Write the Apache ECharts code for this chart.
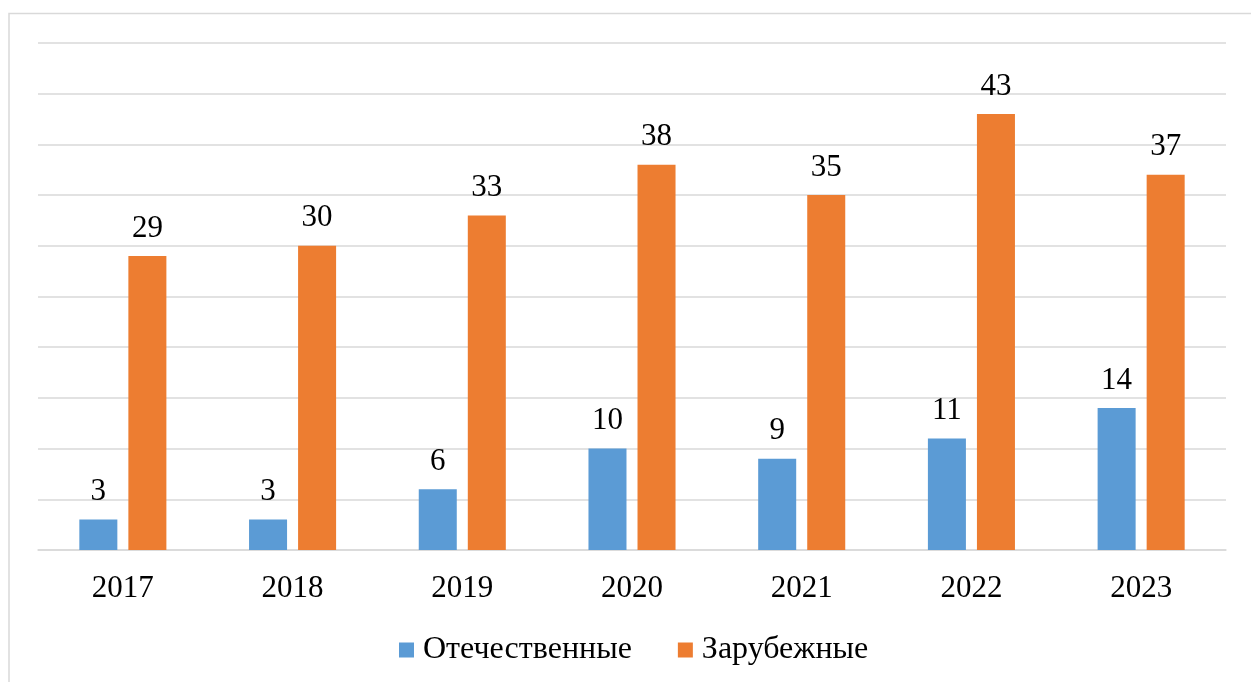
<!DOCTYPE html>
<html>
<head>
<meta charset="utf-8">
<script src="https://cdn.jsdelivr.net/npm/echarts@6/dist/echarts.min.js"></script>
<style>
  html, body { margin: 0; padding: 0; background: #fff; }
  #chart { width: 1251px; height: 682px; }
</style>
</head>
<body>
<div id="chart"></div>
<script>
var years = ['2017', '2018', '2019', '2020', '2021', '2022', '2023'];
var domestic = [3, 3, 6, 10, 9, 11, 14];
var foreign = [29, 30, 33, 38, 35, 43, 37];
var seriesNames = ['Отечественные', 'Зарубежные'];

var chart = echarts.init(document.getElementById('chart'));
var font = '"Liberation Serif", "Times New Roman", serif';

var labelStyle = {
    show: true,
    position: 'top',
    distance: 12,
    color: '#000',
    fontSize: 31,
    fontFamily: font
};

var option = {
    animation: false,
    color: ['#5b9bd5', '#ed7d31'],
    graphic: [{
        type: 'rect',
        shape: { x: 9, y: 13.5, width: 1260, height: 700 },
        style: { fill: 'none', stroke: '#d9d9d9', lineWidth: 1.5 },
        silent: true
    }],
    legend: {
        data: seriesNames,
        top: 629,
        left: 394,
        itemWidth: 15,
        itemHeight: 15,
        itemGap: 46,
        icon: 'rect',
        textStyle: { fontSize: 32, color: '#000', fontFamily: font, padding: [0, 0, 0, 4] }
    },
    grid: {
        left: 38,
        right: 25,
        top: 43,
        bottom: 132,
        containLabel: false
    },
    xAxis: {
        type: 'category',
        data: years,
        axisTick: { show: false },
        axisLine: { lineStyle: { color: '#d9d9d9', width: 1.5 } },
        axisLabel: { fontSize: 31, color: '#000', fontFamily: font, margin: 23 }
    },
    yAxis: {
        type: 'value',
        min: 0,
        max: 50,
        interval: 5,
        axisLabel: { show: false },
        axisLine: { show: false },
        axisTick: { show: false },
        splitLine: { lineStyle: { color: '#d9d9d9', width: 1.5 } }
    },
    series: [{
        name: seriesNames[0],
        type: 'bar',
        data: domestic,
        barWidth: '22.4%',
        barGap: '29%',
        label: labelStyle
    }, {
        name: seriesNames[1],
        type: 'bar',
        data: foreign,
        barWidth: '22.4%',
        barGap: '29%',
        label: labelStyle
    }]
};

chart.setOption(option);
</script>
</body>
</html>
